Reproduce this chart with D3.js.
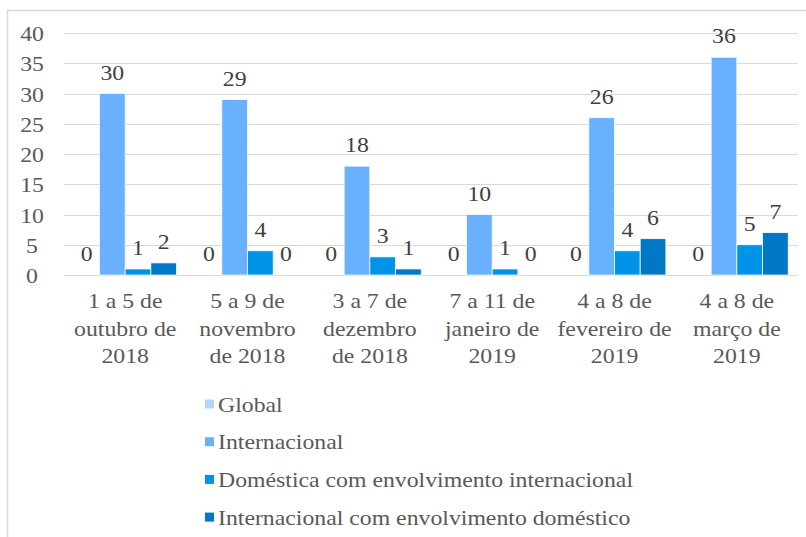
<!DOCTYPE html>
<html><head><meta charset="utf-8">
<script src="https://cdn.jsdelivr.net/npm/d3@7"></script>
<style>body{margin:0;background:#fff}svg{display:block}svg text{font-family:'Liberation Serif','Times New Roman',serif}</style>
</head><body>
<script>
const categories = [
  ["1 a 5 de","outubro de","2018"],
  ["5 a 9 de","novembro","de 2018"],
  ["3 a 7 de","dezembro","de 2018"],
  ["7 a 11 de","janeiro de","2019"],
  ["4 a 8 de","fevereiro de","2019"],
  ["4 a 8 de","março de","2019"]
];
const seriesNames = ["Global","Internacional","Doméstica com envolvimento internacional","Internacional com envolvimento doméstico"];
const global = [0,0,0,0,0,0];
const internacional = [30,29,18,10,26,36];
const domestica = [1,4,3,1,4,5];
const intDomestico = [2,0,1,0,6,7];
const yTicks = [0,5,10,15,20,25,30,35,40];
const colors = ["#B3D5FF","#69B1FF","#0094E8","#0078C6"];
const seriesValues = [global, internacional, domestica, intDomestico];

const W = 806, H = 537;
const svg = d3.select("body").append("svg").attr("width", W).attr("height", H);
const FS = 22, STRETCH = 1.08;
function stretch(sel){
  sel.each(function(){
    const len = this.getComputedTextLength();
    if (len > 0) d3.select(this).attr("textLength", len*STRETCH).attr("lengthAdjust","spacingAndGlyphs");
  });
}

// chart border
svg.append("path").attr("d", `M7.5,${H} V10.5 H${W}`).attr("fill","none").attr("stroke","#D9D9D9").attr("stroke-width",1.5);

const x0 = d3.scaleBand().domain(d3.range(categories.length)).range([64, 798]).paddingInner(0.16).paddingOuter(0.08);
const x1 = d3.scaleBand().domain(d3.range(seriesNames.length)).range([0, x0.bandwidth()]);
const y = d3.scaleLinear().domain([0,40]).range([275, 33]);

// gridlines
svg.append("g").selectAll("line").data(yTicks).join("line")
  .attr("x1",64).attr("x2",798).attr("y1",d=>Math.round(y(d))+0.5).attr("y2",d=>Math.round(y(d))+0.5)
  .attr("stroke","#D9D9D9").attr("stroke-width",1);

// y axis labels
const yAxis = d3.axisLeft(y).tickValues(yTicks).tickSize(0).tickPadding(0);
const ya = svg.append("g").attr("transform","translate(32,0)").call(yAxis);
ya.attr("font-family",null).attr("font-size",null);
ya.select(".domain").remove();
ya.selectAll("text").style("font-size",FS+"px").attr("fill","#595959").attr("text-anchor","middle").attr("dy","0.35em").call(stretch);

// bars
const groups = svg.append("g").selectAll("g").data(categories).join("g")
  .attr("transform",(d,i)=>`translate(${x0(i)},0)`);
seriesNames.forEach((s,si)=>{
  groups.append("rect")
    .attr("x",x1(si)).attr("width",x1.bandwidth())
    .attr("y",(d,i)=>y(seriesValues[si][i])).attr("height",(d,i)=>y(0)-y(seriesValues[si][i]))
    .attr("fill",colors[si]).attr("stroke","#fff").attr("stroke-width",0.75);
  groups.append("text")
    .attr("x",x1(si)+x1.bandwidth()/2).attr("y",(d,i)=>y(seriesValues[si][i])-14)
    .attr("text-anchor","middle").style("font-size",FS+"px").attr("fill","#404040")
    .text((d,i)=>seriesValues[si][i]).call(stretch);
});

// x labels (one text per line)
const xg = svg.append("g").selectAll("g").data(categories).join("g")
  .attr("transform",(d,i)=>`translate(${x0(i)+x0.bandwidth()/2},0)`);
xg.selectAll("text").data(d=>d).join("text")
  .attr("x",0).attr("y",(d,j)=>308+j*27.5)
  .attr("text-anchor","middle").style("font-size",FS+"px").attr("fill","#595959")
  .text(d=>d).call(stretch);

// legend
const lg = svg.append("g").selectAll("g").data(seriesNames).join("g")
  .attr("transform",(d,i)=>`translate(205,${404+i*37.7})`);
lg.append("rect").attr("x",0).attr("y",-4.5).attr("width",9).attr("height",9).attr("fill",(d,i)=>colors[i]);
lg.append("text").attr("x",13).attr("y",0).attr("dy","0.35em").style("font-size",FS+"px").attr("fill","#595959").text(d=>d).call(stretch);
</script>
</body></html>
